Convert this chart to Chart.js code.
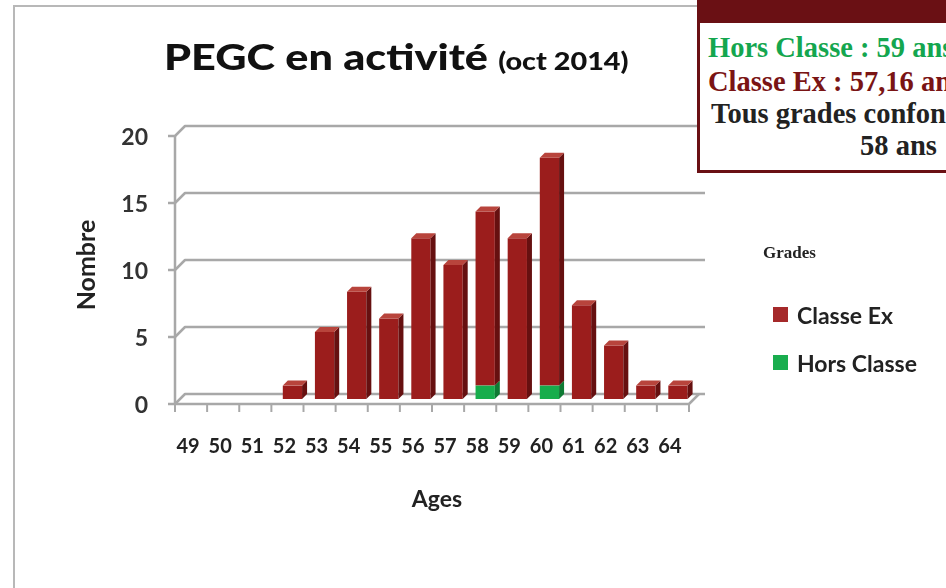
<!DOCTYPE html>
<html><head><meta charset="utf-8">
<script src="https://cdn.jsdelivr.net/npm/chart.js@4.4.1/dist/chart.umd.min.js"></script>
<style>
html,body{margin:0;padding:0;background:#fff;width:946px;height:588px;overflow:hidden;}
#wrap{position:relative;width:946px;height:588px;overflow:hidden;}
#c{position:absolute;left:0;top:0;}
.frame{position:absolute;left:13px;top:5px;width:1000px;height:700px;border-left:2px solid #b8b8b8;border-top:2px solid #b8b8b8;}
#title{position:absolute;left:164px;top:34px;font-family:Lato,sans-serif;font-weight:900;font-size:36px;color:#111;white-space:nowrap;transform:scaleX(1.2);transform-origin:0 0;}
#title span{font-size:24px;}
#box{position:absolute;left:697px;top:0;width:300px;height:170px;border-left:3px solid #6a1014;border-bottom:3px solid #6a1014;background:#fff;}
#boxhead{position:absolute;left:0;top:0;width:300px;height:23px;background:#6a1014;overflow:hidden;}
#boxhead div{position:absolute;left:110px;top:-26px;font:bold 28.5px "Liberation Serif",serif;color:#fff;white-space:nowrap;}
.bl{position:absolute;font:bold 28.5px/29px "Liberation Serif",serif;white-space:nowrap;}
#grades{position:absolute;left:763px;top:243px;font:bold 17px "Liberation Serif",serif;color:#222;}
.leg{position:absolute;left:773px;font:bold 23px Lato,sans-serif;color:#222;white-space:nowrap;}
.leg i{position:absolute;left:0;top:6px;width:15px;height:15px;}
.leg b{position:absolute;left:24px;top:0;font-weight:bold;}
</style></head>
<body><div id="wrap">
<div class="frame"></div>
<canvas id="c" width="946" height="588"></canvas>
<div id="title">PEGC en activité <span>(oct 2014)</span></div>
<div id="box">
  <div id="boxhead"><div>Oct 2014</div></div>
  <div class="bl" style="left:8px;top:33px;color:#14a64f">Hors Classe : 59 ans</div>
  <div class="bl" style="left:8px;top:67px;color:#7a1414">Classe Ex : 57,16 ans</div>
  <div class="bl" style="left:11px;top:99px;color:#222">Tous grades confondus</div>
  <div class="bl" style="left:160px;top:131px;color:#222">58 ans</div>
</div>
<div id="grades">Grades</div>
<div id="legend"></div>
</div>
<script>
const ages = ['49','50','51','52','53','54','55','56','57','58','59','60','61','62','63','64'];
const classeEx = [0,0,0,1,5,8,6,12,10,13,12,17,7,4,1,1];
const horsClasse = [0,0,0,0,0,0,0,0,0,1,0,1,0,0,0,0];
const yTicks = [0,5,10,15,20];
const seriesNames = ['Hors Classe','Classe Ex'];
const frontColors = ['#17ad4c','#9b1d1c'];
const sideColors = ['#0e7a33','#661010'];
const topColors = ['#3cc86c','#b8443c'];
const legendColors = ['#19ad4e','#a5292a'];
const D = 5;

const walls = {
  id:'walls',
  beforeDatasetsDraw(chart){
    const {ctx, chartArea:a, scales:{x,y}} = chart;
    ctx.save();
    ctx.strokeStyle='#a8a8a8'; ctx.lineWidth=2.5; ctx.lineJoin='round';
    yTicks.forEach(v=>{
      const py = y.getPixelForValue(v);
      ctx.beginPath();
      ctx.moveTo(a.left-D-7, py+D);
      ctx.lineTo(a.left-D, py+D);
      ctx.lineTo(a.left+D, py-D);
      ctx.lineTo(a.right+D+6, py-D);
      ctx.stroke();
    });
    ctx.beginPath();
    ctx.moveTo(a.left-D, y.getPixelForValue(20)+D);
    ctx.lineTo(a.left-D, a.bottom+D);
    ctx.lineTo(a.right-D, a.bottom+D);
    ctx.lineTo(a.right+D, a.bottom-D);
    ctx.stroke();
    const n = ages.length, cw = (a.right-a.left)/n;
    ctx.lineWidth=2;
    for(let i=0;i<=n;i++){
      const px = a.left-D+i*cw;
      ctx.beginPath(); ctx.moveTo(px,a.bottom+D); ctx.lineTo(px,a.bottom+D+8); ctx.stroke();
    }
    ctx.restore();
  },
  afterDatasetsDraw(chart){
    const {ctx} = chart;
    ctx.save();
    const metas = chart.data.datasets.map((d,i)=>chart.getDatasetMeta(i));
    const n = ages.length;
    for(let j=0;j<n;j++){
      let topIdx=-1;
      metas.forEach((m,i)=>{ if(chart.data.datasets[i].data[j]>0) topIdx=i; });
      metas.forEach((m,i)=>{
        if(!(chart.data.datasets[i].data[j]>0)) return;
        const el = m.data[j];
        const l = el.x-el.width/2, r = el.x+el.width/2, t = el.y, b = el.base;
        ctx.fillStyle = sideColors[i];
        ctx.beginPath();
        ctx.moveTo(r,t); ctx.lineTo(r+D,t-D); ctx.lineTo(r+D,b-D); ctx.lineTo(r,b); ctx.closePath(); ctx.fill();
        if(i===topIdx){
          ctx.fillStyle = topColors[i];
          ctx.beginPath();
          ctx.moveTo(l,t); ctx.lineTo(l+D,t-D); ctx.lineTo(r+D,t-D); ctx.lineTo(r,t); ctx.closePath(); ctx.fill();
        }
      });
    }
    ctx.restore();
  }
};

new Chart(document.getElementById('c'), {
  type:'bar',
  data:{ labels: ages, datasets:[
    {label:seriesNames[0], data:horsClasse, backgroundColor:frontColors[0], borderWidth:0},
    {label:seriesNames[1], data:classeEx, backgroundColor:frontColors[1], borderWidth:0}
  ]},
  options:{
    responsive:false, animation:false,
    layout:{padding:{left:68,top:131,right:252,bottom:69}},
    plugins:{legend:{display:false}, tooltip:{enabled:false}},
    datasets:{bar:{categoryPercentage:1, barPercentage:0.6}},
    scales:{
      x:{stacked:true, grid:{display:false, drawTicks:false}, border:{display:false},
        ticks:{font:{family:'Lato',weight:'bold',size:20}, color:'#222', padding:36, labelOffset:-8, maxRotation:0, autoSkip:false},
        title:{display:true, text:'Ages', font:{family:'Lato',weight:'bold',size:23}, color:'#222', padding:{top:0,bottom:6}},
        afterFit(s){ s.height=120; }
      },
      y:{stacked:true, min:0, max:20, grid:{display:false, drawTicks:false}, border:{display:false},
        afterBuildTicks(s){ s.ticks = yTicks.map(v=>({value:v})); },
        ticks:{font:{family:'Lato',weight:'bold',size:23}, color:'#333', padding:32, labelOffset:7},
        title:{display:true, text:'Nombre', font:{family:'Lato',weight:'bold',size:25}, color:'#222', padding:{top:4,bottom:0}},
        afterFit(s){ s.width=112; }
      }
    }
  },
  plugins:[walls]
});

const lg = document.getElementById('legend');
[[1,307],[0,355]].forEach(([i,top])=>{
  const d=document.createElement('div'); d.className='leg'; d.style.top=(top-6)+'px';
  d.innerHTML='<i style="background:'+legendColors[i]+'"></i><b>'+seriesNames[i]+'</b>';
  lg.appendChild(d);
});
</script>
</body></html>
